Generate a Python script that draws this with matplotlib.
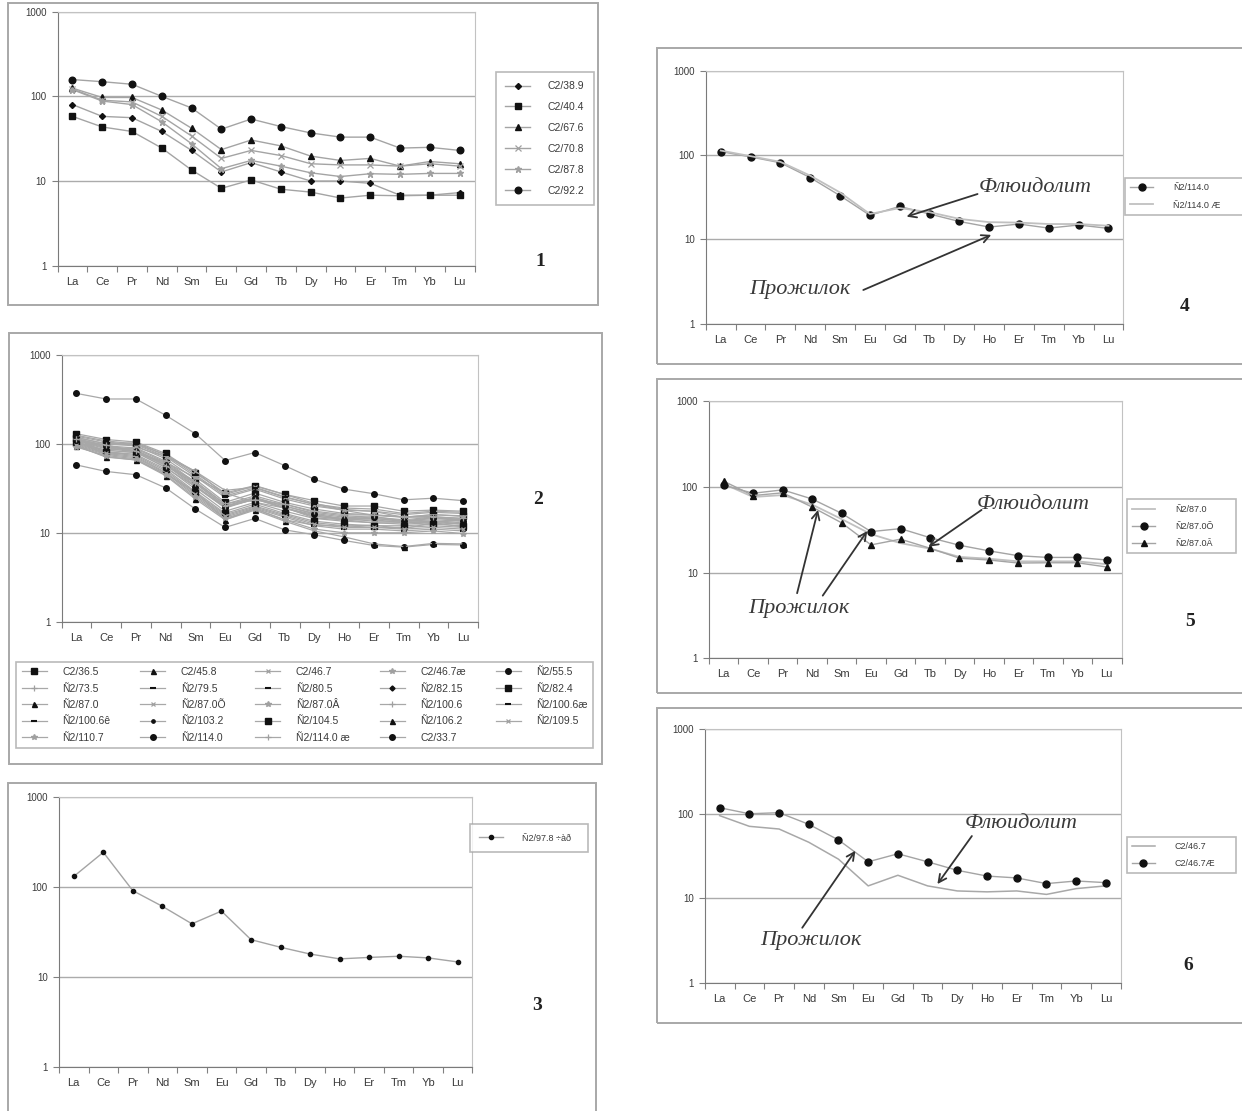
import matplotlib
matplotlib.use('Agg')
import matplotlib.pyplot as plt
from matplotlib.patches import Rectangle
from matplotlib.ticker import NullLocator
import numpy as np

plt.rcParams['font.family'] = ['Liberation Sans', 'DejaVu Sans']

W, H = 1242, 1111

# ---------------- data ----------------
ree = ['La', 'Ce', 'Pr', 'Nd', 'Sm', 'Eu', 'Gd', 'Tb', 'Dy', 'Ho', 'Er', 'Tm', 'Yb', 'Lu']
ytick_vals = [1, 10, 100, 1000]
ytick_labels = ['1', '10', '100', '1000']

# panel 1
p1_names = ['C2/38.9', 'C2/40.4', 'C2/67.6', 'C2/70.8', 'C2/87.8', 'C2/92.2']
c2_38_9 = [80, 58, 56, 38.5, 23, 12.8, 16.5, 12.8, 10, 10, 9.4, 6.8, 6.8, 7.3]
c2_40_4 = [58, 43.5, 38.5, 24.5, 13.5, 8.2, 10.3, 8.0, 7.4, 6.3, 6.8, 6.7, 6.8, 6.8]
c2_67_6 = [125, 97, 97, 69, 42, 23.5, 30.5, 26, 19.7, 17.5, 18.5, 15, 17, 16]
c2_70_8 = [122, 90, 86, 58, 34, 18.5, 23, 20, 16, 15.5, 15.5, 15, 16, 15]
c2_87_8 = [120, 88, 80, 50, 27.5, 14, 17.5, 15, 12.5, 11.3, 12.2, 12, 12.3, 12.3]
c2_92_2 = [158, 149, 139, 100, 73, 41, 54, 44, 37, 33, 33, 24.5, 25, 23]

# panel 3
n2_97_8 = [131, 243, 91, 61, 39, 54, 26, 21.4, 18, 15.9, 16.5, 17, 16.3, 14.7]

# panel 4
n2_114_0 = [110, 95, 81, 54, 33, 19.3, 24.6, 20, 16.3, 14, 15.2, 13.6, 14.8, 13.5]
n2_114_0ae = [113, 97, 83, 57, 36, 20, 23.5, 21, 17.5, 16, 15.8, 15.2, 15.2, 14.5]

# panel 5
n2_87_0 = [108, 76, 80, 62, 42, 28, 22, 19, 15.2, 14.5, 13.5, 13.5, 13.5, 12.5]
n2_87_0o = [104, 84, 92, 72, 49, 30, 32.5, 25.5, 20.8, 17.9, 15.7, 15, 15, 14]
n2_87_0a = [116, 79, 85, 58, 38, 21, 24.5, 19.2, 14.7, 14, 12.9, 13, 13, 11.6]

# panel 6
c2_46_7 = [95, 71, 66, 46, 29, 14, 18.7, 14, 12.2, 11.9, 12.2, 11.1, 13, 14]
c2_46_7ae = [118, 100, 103, 75, 49, 27, 33.6, 27, 21.4, 18.3, 17.4, 14.9, 16, 15.3]

# panel 2 (additional samples)
c2_33_7 = [370, 320, 320, 210, 130, 65, 80, 57, 40, 31, 27.5, 23.5, 24.5, 23]
n2_55_5 = [58, 49, 45, 32, 18.5, 11.5, 14.5, 10.8, 9.5, 8.2, 7.2, 6.9, 7.4, 7.3]
n2_82_4 = [130, 112, 105, 78, 47, 28, 34, 27, 23, 20, 20, 17.5, 18, 17.5]
c2_36_5 = [118, 100, 95, 68, 40, 22, 28, 22, 18.5, 16.5, 16, 15, 16, 15.5]
c2_45_8 = [112, 92, 88, 62, 36, 20, 25, 20, 16.5, 15, 14.5, 13.5, 14.5, 14]
n2_73_5 = [105, 85, 80, 55, 31, 17.5, 22, 17.5, 14.5, 13.5, 13, 12.5, 13, 12.5]
n2_79_5 = [100, 80, 74, 50, 28, 16, 20, 16, 13, 12, 11.5, 11.5, 12, 11.5]
n2_80_5 = [122, 105, 98, 72, 43, 25, 31, 24, 20, 18, 17.5, 16, 17, 16.5]
n2_82_15 = [108, 88, 82, 58, 33, 19, 24, 19, 15.5, 14, 14, 13, 13.5, 13]
n2_100_6 = [115, 95, 90, 64, 37, 21, 26, 21, 17, 15.5, 15, 14, 15, 14.5]
n2_100_6ae = [96, 76, 70, 47, 26, 15, 19, 15, 12, 11, 11, 10.5, 11, 10.5]
n2_100_6k = [125, 108, 100, 75, 45, 26, 32, 25, 21, 19, 18.5, 16.5, 17.5, 17]
n2_103_2 = [110, 90, 85, 60, 34, 19.5, 24, 19, 16, 14.5, 14.5, 13.5, 14, 13.5]
n2_104_5 = [102, 82, 76, 52, 29, 16.5, 21, 16.5, 13.5, 12.5, 12, 12, 12.5, 12]
n2_106_2 = [95, 72, 66, 44, 24, 14, 18, 13.5, 10.5, 9, 7.5, 7, 7.6, 7.5]
n2_109_5 = [98, 78, 72, 48, 27, 15.5, 19.5, 15.5, 12.5, 11.5, 11.5, 11, 11.5, 11]
n2_110_7 = [92, 74, 68, 45, 25, 14.5, 18.5, 14, 11, 10, 10, 10, 10.5, 9.8]

p2_names = ['C2/36.5', 'C2/45.8', 'C2/46.7', 'C2/46.7æ', 'Ñ2/55.5',
            'Ñ2/73.5', 'Ñ2/79.5', 'Ñ2/80.5', 'Ñ2/82.15', 'Ñ2/82.4',
            'Ñ2/87.0', 'Ñ2/87.0Õ', 'Ñ2/87.0Â', 'Ñ2/100.6', 'Ñ2/100.6æ',
            'Ñ2/100.6ê', 'Ñ2/103.2', 'Ñ2/104.5', 'Ñ2/106.2', 'Ñ2/109.5',
            'Ñ2/110.7', 'Ñ2/114.0', 'Ñ2/114.0 æ', 'C2/33.7']
p2_values = [c2_36_5, c2_45_8, c2_46_7, c2_46_7ae, n2_55_5,
             n2_73_5, n2_79_5, n2_80_5, n2_82_15, n2_82_4,
             n2_87_0a, n2_87_0o, n2_87_0, n2_100_6, n2_100_6ae,
             n2_100_6k, n2_103_2, n2_104_5, n2_106_2, n2_109_5,
             n2_110_7, n2_114_0, n2_114_0ae, c2_33_7]

# ---------------- styles ----------------
LINE = '#a4a4a4'
BLK = '#111111'
GRY = '#a0a0a0'
STY = {
    'sq': dict(marker='s', ms=5, mfc=BLK, mec=BLK),
    'tri': dict(marker='^', ms=4.5, mfc=BLK, mec=BLK),
    'x': dict(marker='x', ms=4, mfc=GRY, mec=GRY, mew=0.9),
    'star': dict(marker='*', ms=5, mfc=GRY, mec=GRY),
    'o': dict(marker='o', ms=5, mfc=BLK, mec=BLK),
    'plus': dict(marker='+', ms=5, mfc=GRY, mec=GRY, mew=0.9),
    'dash': dict(marker='_', ms=6, mfc=BLK, mec=BLK, mew=1.5),
    'D': dict(marker='D', ms=3.2, mfc=BLK, mec=BLK),
    'dot': dict(marker='o', ms=3, mfc=BLK, mec=BLK),
    'none': dict(marker='None'),
}
p1_sty = ['D', 'sq', 'tri', 'x', 'star', 'o']
p2_sty = ['sq', 'tri', 'x', 'star', 'o',
          'plus', 'dash', 'dash', 'D', 'sq',
          'tri', 'x', 'star', 'plus', 'dash',
          'dash', 'dot', 'sq', 'tri', 'x',
          'star', 'o', 'plus', 'o']

fig = plt.figure(figsize=(W / 100, H / 100), dpi=100)
fig.patch.set_facecolor('white')
xs = np.arange(len(ree)) + 0.5


def fr(x0, y0, x1, y1):
    return [x0 / W, 1 - y1 / H, (x1 - x0) / W, (y1 - y0) / H]


def panel_box(x0, y0, x1, y1):
    fig.patches.append(Rectangle((x0 / W, 1 - y1 / H), (x1 - x0) / W, (y1 - y0) / H,
                                 transform=fig.transFigure, fill=False,
                                 ec='#a8a8a8', lw=1.4, zorder=0))


def make_axes(x0, y0, x1, y1):
    ax = fig.add_axes(fr(x0, y0, x1, y1))
    ax.set_yscale('log')
    ax.set_ylim(1, 1000)
    ax.set_xlim(0, 14)
    ax.set_yticks(ytick_vals)
    ax.set_yticklabels(ytick_labels)
    ax.yaxis.set_minor_locator(NullLocator())
    ax.set_xticks(np.arange(15))
    ax.set_xticklabels([])
    ax.set_xticks(xs, minor=True)
    ax.set_xticklabels(ree, minor=True)
    ax.tick_params(axis='x', which='major', length=4, width=0.8, color='#808080', direction='out')
    ax.tick_params(axis='x', which='minor', length=0, pad=8, labelsize=8, labelcolor='#3a3a3a')
    ax.tick_params(axis='y', which='major', length=4, width=0.8, color='#808080',
                   labelsize=7, labelcolor='#3a3a3a', pad=4)
    ax.grid(axis='y', which='major', color='#ababab', lw=1.0)
    ax.set_axisbelow(True)
    for s in ['top', 'right']:
        ax.spines[s].set_color('#c2c2c2')
    for s in ['left', 'bottom']:
        ax.spines[s].set_color('#7a7a7a')
    return ax


def series(ax, vals, sty, label, color=LINE, lw=1.0, scale=1.0):
    st = dict(STY[sty])
    if 'ms' in st:
        st['ms'] = st['ms'] * scale
    return ax.plot(xs, vals, color=color, lw=lw, label=label, **st)[0]


def legend(ax, handles, labels, rect, fs, ncol=1, **kw):
    x0, y0, x1, y1 = rect
    lg = ax.legend(handles, labels, loc='center', ncol=ncol,
                   bbox_to_anchor=(x0 / W, 1 - y1 / H, (x1 - x0) / W, (y1 - y0) / H),
                   bbox_transform=fig.transFigure, mode='expand', borderaxespad=0,
                   fancybox=False, frameon=True, fontsize=fs, **kw)
    lg.get_frame().set_edgecolor('#a8a8a8')
    lg.get_frame().set_linewidth(1.2)
    for t in lg.get_texts():
        t.set_color('#3a3a3a')
    return lg


def number(x, y, s):
    fig.text(x / W, 1 - y / H, s, ha='center', va='center', fontsize=14,
             fontweight='bold', family='Liberation Serif', color='#222222')


def label_text(ax, x, y, s):
    ax.text(x, y, s, ha='left', va='center', fontsize=16, style='italic',
            family='Liberation Serif', color='#3a3a3a', zorder=6)


def arrow(ax, start, end):
    ax.annotate('', xy=end, xytext=start, annotation_clip=False,
                arrowprops=dict(arrowstyle='->', color='#333333', lw=1.3,
                                mutation_scale=14, shrinkA=0, shrinkB=0), zorder=6)


# ---------------- panel 1 ----------------
panel_box(8, 3, 598, 305)
ax1 = make_axes(57.6, 11.7, 474.5, 265.7)
h = []
for vals, st, nm in zip([c2_38_9, c2_40_4, c2_67_6, c2_70_8, c2_87_8, c2_92_2], p1_sty, p1_names):
    h.append(series(ax1, vals, st, nm, scale=0.95))
legend(ax1, h, p1_names, (496, 76, 594, 201), 7.5, handlelength=2.4,
       handletextpad=1.6, labelspacing=1.05, borderpad=0.9)
number(540.7, 262, '1')

# ---------------- panel 2 ----------------
panel_box(8.6, 333, 602, 764)
ax2 = make_axes(61.5, 355, 478, 621.7)
h2 = []
for vals, st, nm in zip(p2_values, p2_sty, p2_names):
    h2.append(series(ax2, vals, st, nm, color='#a8a8a8', lw=0.9, scale=0.8))
ncol = 5
order = []
for c in range(ncol):
    order += [i for i in range(c, len(h2), ncol)]
legend(ax2, [h2[i] for i in order], [p2_names[i] for i in order],
       (16.4, 653, 593, 757), 7.5, ncol=5, handlelength=2.4, handletextpad=1.5,
       labelspacing=0.62, borderpad=0.5, columnspacing=0.5)
number(537.6, 500, '2')

# ---------------- panel 3 ----------------
panel_box(7.8, 783, 596, 1115)
ax3 = make_axes(59, 797, 472.5, 1067)
h3 = [series(ax3, n2_97_8, 'dot', 'Ñ2/97.8 ÷àð')]
legend(ax3, h3, ['Ñ2/97.8 ÷àð'], (470, 817, 588, 859), 6.5, handlelength=2.6,
       handletextpad=2.2, borderpad=1.0)
number(537, 1006, '3')

# ---------------- panel 4 ----------------
panel_box(656.5, 48, 1246, 364)
ax4 = make_axes(705.8, 70.7, 1123.4, 323.7)
h4 = [series(ax4, n2_114_0, 'o', 'Ñ2/114.0'),
      series(ax4, n2_114_0ae, 'none', 'Ñ2/114.0 Æ', color='#c0c0c0', lw=1.3)]
legend(ax4, h4, ['Ñ2/114.0', 'Ñ2/114.0 Æ'], (1125, 175, 1246, 218), 6.5,
       handlelength=2.6, handletextpad=2.2, borderpad=0.55, labelspacing=0.9)
number(1184.5, 306.7, '4')
label_text(ax4, 9.14, 41, 'Флюидолит')
arrow(ax4, (9.11, 34.5), (6.73, 18.6))
label_text(ax4, 1.45, 2.51, 'Прожилок')
arrow(ax4, (5.28, 2.51), (9.57, 11.3))

# ---------------- panel 5 ----------------
panel_box(656.5, 379, 1246, 693)
ax5 = make_axes(709, 401, 1121.5, 658.3)
h5 = [series(ax5, n2_87_0, 'none', 'Ñ2/87.0', color='#c0c0c0', lw=1.3),
      series(ax5, n2_87_0o, 'o', 'Ñ2/87.0Õ'),
      series(ax5, n2_87_0a, 'tri', 'Ñ2/87.0Â')]
legend(ax5, h5, ['Ñ2/87.0', 'Ñ2/87.0Õ', 'Ñ2/87.0Â'], (1126.6, 495, 1235.7, 557.7), 6.5,
       handlelength=2.6, handletextpad=2.2, borderpad=0.6, labelspacing=0.9)
number(1190, 621.7, '5')
label_text(ax5, 9.09, 61.4, 'Флюидолит')
arrow(ax5, (9.25, 53.7), (7.45, 20))
label_text(ax5, 1.32, 3.84, 'Прожилок')
arrow(ax5, (2.99, 5.74), (3.70, 53.7))
arrow(ax5, (3.86, 5.38), (5.37, 30.5))

# ---------------- panel 6 ----------------
panel_box(656.5, 708.3, 1246, 1023)
ax6 = make_axes(704.8, 729.3, 1120.7, 982.7)
h6 = [series(ax6, c2_46_7, 'none', 'C2/46.7', color='#a8a8a8', lw=1.1),
      series(ax6, c2_46_7ae, 'o', 'C2/46.7Æ')]
legend(ax6, h6, ['C2/46.7', 'C2/46.7Æ'], (1126.6, 834, 1235.7, 876.7), 6.5,
       handlelength=2.6, handletextpad=2.2, borderpad=0.55, labelspacing=0.9)
number(1188.4, 965, '6')
label_text(ax6, 8.75, 75.7, 'Флюидолит')
arrow(ax6, (8.99, 54.5), (7.83, 14.7))
label_text(ax6, 1.86, 3.2, 'Прожилок')
arrow(ax6, (3.28, 4.47), (5.07, 36.5))

fig.savefig('out.png', dpi=100, facecolor='white')
